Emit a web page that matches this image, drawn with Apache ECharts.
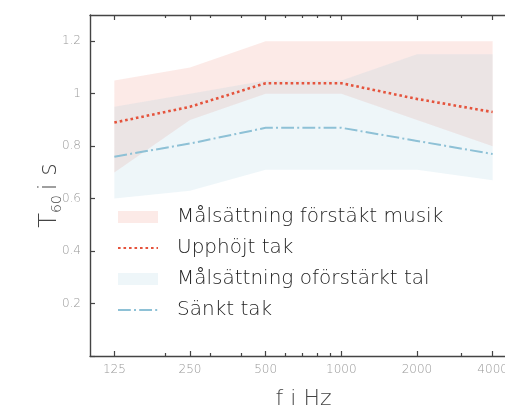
<!DOCTYPE html>
<html>
<head>
<meta charset="utf-8">
<script src="https://cdn.jsdelivr.net/npm/echarts@6/dist/echarts.min.js"></script>
<style>html,body{margin:0;padding:0;background:#fff}#c{width:505px;height:408px}</style>
</head>
<body>
<div id="c"></div>
<script>
// Data
const freqs = [125, 250, 500, 1000, 2000, 4000];
const majorTicks = [125, 250, 500, 1000, 2000, 4000];
const minorTicks = [200, 300, 400, 600, 700, 800, 900, 3000];
const musikLow  = [0.70, 0.90, 1.00, 1.00, 0.90, 0.80];
const musikHigh = [1.05, 1.10, 1.20, 1.20, 1.20, 1.20];
const talLow    = [0.60, 0.63, 0.71, 0.71, 0.71, 0.67];
const talHigh   = [0.95, 1.00, 1.05, 1.05, 1.15, 1.15];
const upphojt   = [0.89, 0.95, 1.04, 1.04, 0.98, 0.93];
const sankt     = [0.76, 0.81, 0.87, 0.87, 0.82, 0.77];
const names = ['Målsättning förstäkt musik', 'Upphöjt tak', 'Målsättning oförstärkt tal', 'Sänkt tak'];

const FONT = 'DejaVu Sans';
const pink = 'rgba(232,85,61,0.12)';
const blue = 'rgba(142,193,214,0.15)';
const red = '#e5533c';
const lblue = '#8ec1d6';

function xAx(pos, ticks, len, showLine, labels) {
  return {
    type: 'log', logBase: 2, min: 100, max: 5000, position: pos,
    axisLine: {show: showLine, onZero: false, lineStyle: {color: '#444', width: 1.4}},
    axisTick: {show: true, inside: true, length: len, customValues: ticks, lineStyle: {color: '#444', width: 1.2}},
    axisLabel: labels ? {show: true, customValues: ticks, color: '#999', fontFamily: FONT, fontWeight: 200,
      fontSize: 12, margin: 8, formatter: v => String(v)} : {show: false},
    splitLine: {show: false},
    minorTick: {show: false},
    name: labels ? 'f i Hz' : '',
    nameLocation: 'middle', nameGap: 32,
    nameTextStyle: {color: '#444', fontFamily: FONT, fontWeight: 200, fontSize: 22}
  };
}

function band(name, lo, hi, color, z) {
  return {
    name: name, type: 'custom', z: z,
    data: freqs.map((f, i) => [f, lo[i], hi[i]]),
    encode: {x: 0, y: [1, 2]},
    itemStyle: {color: color},
    clip: true,
    renderItem: function (params, api) {
      if (params.dataIndexInside !== 0) return null;
      const n = params.dataInsideLength;
      const top = [], bot = [];
      for (let i = 0; i < n; i++) {
        top.push(api.coord([api.value(0, i), api.value(2, i)]));
        bot.push(api.coord([api.value(0, i), api.value(1, i)]));
      }
      return {type: 'polygon', shape: {points: top.concat(bot.reverse())}, style: {fill: color}};
    }
  };
}

const chart = echarts.init(document.getElementById('c'), null, {renderer: 'canvas'});
chart.setOption({
  animation: false,
  grid: {left: 90, top: 15, width: 427, bottom: 52, containLabel: false, outerBoundsMode: 'none'},
  xAxis: [
    xAx('bottom', majorTicks, 5, true, true),
    xAx('top', majorTicks, 5, true, false),
    xAx('bottom', minorTicks, 3, false, false),
    xAx('top', minorTicks, 3, false, false)
  ],
  yAxis: {
    type: 'value', min: 0, max: 1.3, interval: 0.2,
    axisLine: {show: true, onZero: false, lineStyle: {color: '#444', width: 1.4}},
    axisTick: {show: true, inside: true, length: 5, lineStyle: {color: '#444', width: 1.2}},
    axisLabel: {color: '#999', fontFamily: FONT, fontWeight: 200, fontSize: 12, margin: 9,
      showMaxLabel: false,
      formatter: v => (v === 0 || v > 1.25 ? '' : String(+v.toFixed(2)))},
    splitLine: {show: false},
    name: '{t|T}{s|60}{t|i s}',
    nameLocation: 'middle', nameGap: 26, nameRotate: 90, nameMoveOverlap: false,
    nameTextStyle: {
      color: '#444', fontFamily: FONT, fontWeight: 200, padding: [0, 20, 0, 0],
      rich: {
        t: {fontSize: 24, color: '#444', fontFamily: FONT, fontWeight: 200, lineHeight: 28},
        s: {fontSize: 14, color: '#444', fontFamily: FONT, fontWeight: 200, lineHeight: 14,
            verticalAlign: 'bottom', padding: [0, 5, 0, 0]}
      }
    }
  },
  legend: {
    orient: 'vertical', left: 117, top: 207, padding: 0, itemWidth: 40, itemHeight: 12, itemGap: 11,
    textStyle: {color: '#222', fontFamily: FONT, fontWeight: 200, fontSize: 20, lineHeight: 20, padding: [0, 0, 0, 14]},
    data: [
      {name: names[0], icon: 'rect'},
      {name: names[1], itemStyle: {opacity: 0}},
      {name: names[2], icon: 'rect'},
      {name: names[3], itemStyle: {opacity: 0}}
    ]
  },
  series: [
    band(names[0], musikLow, musikHigh, pink, 1),
    band(names[2], talLow, talHigh, blue, 2),
    {name: names[1], type: 'line', data: freqs.map((f, i) => [f, upphojt[i]]), symbol: 'none',
     itemStyle: {color: red},
     lineStyle: {color: red, width: 2.6, type: [2.6, 2.9], cap: 'butt'}, z: 5},
    {name: names[3], type: 'line', data: freqs.map((f, i) => [f, sankt[i]]), symbol: 'none',
     itemStyle: {color: lblue},
     lineStyle: {color: lblue, width: 2, type: [12.8, 3.2, 2, 3.2], cap: 'butt'}, z: 5}
  ]
});
</script>
</body>
</html>
